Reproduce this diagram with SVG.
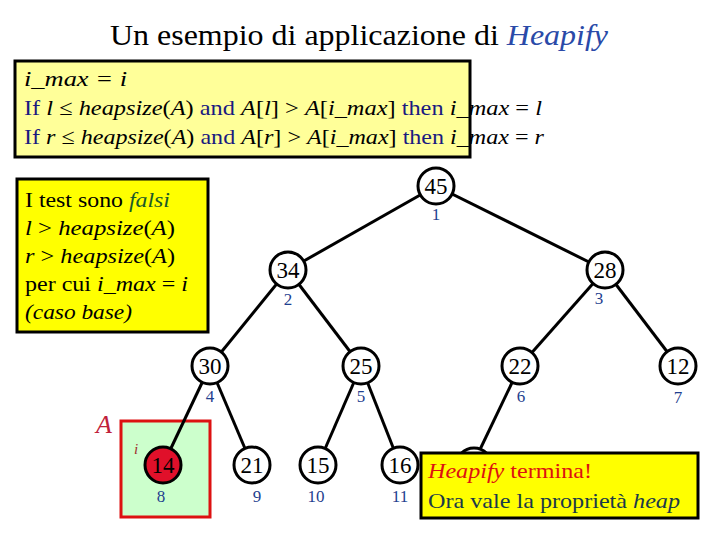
<svg xmlns="http://www.w3.org/2000/svg" width="720" height="540" viewBox="0 0 720 540" font-family="'Liberation Serif', 'Times New Roman', 'DejaVu Serif', serif">
<style>
text,tspan{font-family:'Liberation Serif','Times New Roman','DejaVu Serif',serif}
.n circle{fill:#fff;stroke:#000;stroke-width:3}
.n text{font-size:23px;text-anchor:middle}
.idx{font-size:17px;fill:#1f3f8f;text-anchor:middle}
.e line{stroke:#000;stroke-width:3}
.b{fill:#1a1a80}
.t{font-size:22px}
</style>
<rect width="720" height="540" fill="#fff"/>
<text x="110" y="45" font-size="29" textLength="498" lengthAdjust="spacingAndGlyphs">Un esempio di applicazione di <tspan font-style="italic" fill="#2a4aa8">Heapify</tspan></text>
<g id="code">
<rect x="15" y="61" width="455" height="96" fill="#ffff99" stroke="#000" stroke-width="3"/>
<text class="t" x="24" y="86" font-style="italic" textLength="103" lengthAdjust="spacingAndGlyphs">i_max = i</text>
<text class="t" x="24" y="115" textLength="518" lengthAdjust="spacingAndGlyphs"><tspan class="b">If </tspan><tspan font-style="italic">l</tspan> ≤ <tspan font-style="italic">heapsize</tspan>(<tspan font-style="italic">A</tspan>)<tspan class="b"> and </tspan><tspan font-style="italic">A</tspan>[<tspan font-style="italic">l</tspan>] &gt; <tspan font-style="italic">A</tspan>[<tspan font-style="italic">i_max</tspan>]<tspan class="b"> then </tspan><tspan font-style="italic">i_max</tspan> = <tspan font-style="italic">l</tspan></text>
<text class="t" x="24" y="144" textLength="520" lengthAdjust="spacingAndGlyphs"><tspan class="b">If </tspan><tspan font-style="italic">r</tspan> ≤ <tspan font-style="italic">heapsize</tspan>(<tspan font-style="italic">A</tspan>)<tspan class="b"> and </tspan><tspan font-style="italic">A</tspan>[<tspan font-style="italic">r</tspan>] &gt; <tspan font-style="italic">A</tspan>[<tspan font-style="italic">i_max</tspan>]<tspan class="b"> then </tspan><tspan font-style="italic">i_max</tspan> = <tspan font-style="italic">r</tspan></text>
</g>
<g id="note">
<rect x="17" y="179" width="191" height="153" fill="#ffff00" stroke="#000" stroke-width="3"/>
<text class="t" x="25" y="207" textLength="145" lengthAdjust="spacingAndGlyphs">I test sono <tspan font-style="italic" fill="#1a5a2a">falsi</tspan></text>
<text class="t" x="25" y="235" textLength="150" lengthAdjust="spacingAndGlyphs"><tspan font-style="italic">l</tspan> &gt; <tspan font-style="italic">heapsize</tspan>(<tspan font-style="italic">A</tspan>)</text>
<text class="t" x="25" y="263" textLength="150" lengthAdjust="spacingAndGlyphs"><tspan font-style="italic">r</tspan> &gt; <tspan font-style="italic">heapsize</tspan>(<tspan font-style="italic">A</tspan>)</text>
<text class="t" x="25" y="291" textLength="163" lengthAdjust="spacingAndGlyphs">per cui <tspan font-style="italic">i_max</tspan> = <tspan font-style="italic">i</tspan></text>
<text class="t" x="25" y="319" font-style="italic" textLength="107" lengthAdjust="spacingAndGlyphs">(caso base)</text>
</g>
<g id="subtree">
<rect x="121" y="421" width="89" height="96" fill="#ccffcc" stroke="#dd1111" stroke-width="3"/>
<text x="96" y="433" font-size="26" font-style="italic" fill="#c0203a">A</text>
<text x="134" y="454" font-size="15" font-style="italic" fill="#a03030">i</text>
</g>
<g class="e" id="connectors">
<line x1="436" y1="186" x2="288" y2="270"/>
<line x1="436" y1="186" x2="605" y2="270"/>
<line x1="288" y1="270" x2="210" y2="366"/>
<line x1="288" y1="270" x2="361" y2="366"/>
<line x1="605" y1="270" x2="520" y2="366"/>
<line x1="605" y1="270" x2="678" y2="366"/>
<line x1="210" y1="366" x2="163" y2="465"/>
<line x1="210" y1="366" x2="252" y2="465"/>
<line x1="361" y1="366" x2="318" y2="465"/>
<line x1="361" y1="366" x2="400" y2="465"/>
<line x1="520" y1="366" x2="474" y2="462"/>
</g>
<g class="n" id="n1"><circle cx="436" cy="186" r="18"/><text x="436" y="194">45</text></g>
<g class="n" id="n2"><circle cx="288" cy="270" r="18"/><text x="288" y="278">34</text></g>
<g class="n" id="n3"><circle cx="605" cy="270" r="18"/><text x="605" y="278">28</text></g>
<g class="n" id="n4"><circle cx="210" cy="366" r="18"/><text x="210" y="374">30</text></g>
<g class="n" id="n5"><circle cx="361" cy="366" r="18"/><text x="361" y="374">25</text></g>
<g class="n" id="n6"><circle cx="520" cy="366" r="18"/><text x="520" y="374">22</text></g>
<g class="n" id="n7"><circle cx="678" cy="366" r="18"/><text x="678" y="374">12</text></g>
<g class="n" id="n8"><circle cx="163" cy="465" r="18" style="fill:#e0102a"/><text x="163" y="473">14</text></g>
<g class="n" id="n9"><circle cx="252" cy="465" r="18"/><text x="252" y="473">21</text></g>
<g class="n" id="n10"><circle cx="318" cy="465" r="18"/><text x="318" y="473">15</text></g>
<g class="n" id="n11"><circle cx="400" cy="465" r="18"/><text x="400" y="473">16</text></g>
<g class="n" id="n12"><circle cx="474" cy="466" r="18"/></g>
<g id="indices">
<text class="idx" x="436" y="220">1</text>
<text class="idx" x="288" y="305">2</text>
<text class="idx" x="599" y="304">3</text>
<text class="idx" x="210" y="402">4</text>
<text class="idx" x="361" y="402">5</text>
<text class="idx" x="521" y="402">6</text>
<text class="idx" x="678" y="403">7</text>
<text class="idx" x="161" y="502">8</text>
<text class="idx" x="257" y="502">9</text>
<text class="idx" x="316" y="502">10</text>
<text class="idx" x="400" y="502">11</text>
</g>
<g id="end">
<rect x="421" y="453" width="277" height="65" fill="#ffff00" stroke="#000" stroke-width="3"/>
<text class="t" x="428" y="478" fill="#dd1111" textLength="164" lengthAdjust="spacingAndGlyphs"><tspan font-style="italic">Heapify</tspan> termina!</text>
<text class="t" x="428" y="508" fill="#1a3a4a" textLength="252" lengthAdjust="spacingAndGlyphs">Ora vale la proprietà <tspan font-style="italic">heap</tspan></text>
</g>
</svg>
